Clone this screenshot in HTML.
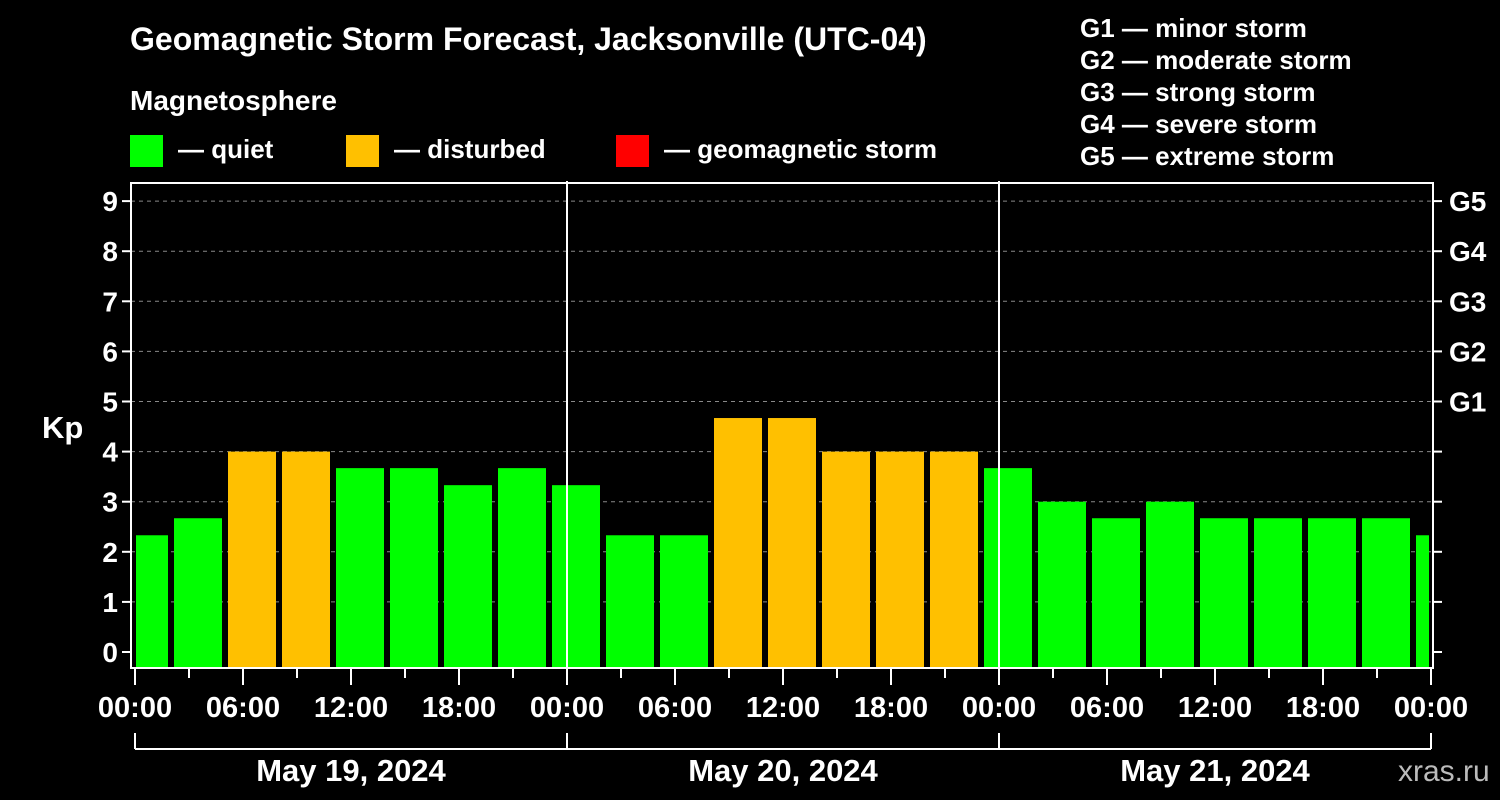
<!DOCTYPE html>
<html><head><meta charset="utf-8"><style>
html,body{margin:0;padding:0;background:#000;width:1500px;height:800px;overflow:hidden}
svg{display:block}
text{font-family:"Liberation Sans",Arial,sans-serif;font-weight:bold;fill:#fff}
</style></head><body>
<svg id="chart" width="1500" height="800" xmlns="http://www.w3.org/2000/svg">
<text x="130" y="50" font-size="32">Geomagnetic Storm Forecast, Jacksonville (UTC-04)</text>
<text x="130" y="110" font-size="28">Magnetosphere</text>
<g><rect x="130" y="135" width="33" height="32" fill="#00ff00"/><text x="178" y="158" font-size="26">— quiet</text></g>
<g><rect x="346" y="135" width="33" height="32" fill="#ffc000"/><text x="394" y="158" font-size="26">— disturbed</text></g>
<g><rect x="616" y="135" width="33" height="32" fill="#ff0000"/><text x="664" y="158" font-size="26">— geomagnetic storm</text></g>
<g font-size="26">
<text x="1080" y="37">G1 — minor storm</text>
<text x="1080" y="69">G2 — moderate storm</text>
<text x="1080" y="101">G3 — strong storm</text>
<text x="1080" y="133">G4 — severe storm</text>
<text x="1080" y="165">G5 — extreme storm</text>
</g>
<text x="42" y="438" font-size="31">Kp</text>
<g id="plot"></g>
<text x="1398" y="781" font-size="30" style="fill:#bbb;font-weight:normal">xras.ru</text>
</svg>
<script>
const kpValues=[2.33,2.67,4,4,3.67,3.67,3.33,3.67,3.33,2.33,2.33,4.67,4.67,4,4,4,3.67,3,2.67,3,2.67,2.67,2.67,2.67,2.33];
const slotStartHours=[-1,2,5,8,11,14,17,20,23,26,29,32,35,38,41,44,47,50,53,56,59,62,65,68,71];
const kpTicks=[0,1,2,3,4,5,6,7,8,9];
const gLabels=["G1","G2","G3","G4","G5"];
const hourTickLabels=["00:00","06:00","12:00","18:00","00:00","06:00","12:00","18:00","00:00","06:00","12:00","18:00","00:00"];
const dateLabels=["May 19, 2024","May 20, 2024","May 21, 2024"];
const NS="http://www.w3.org/2000/svg";
const L=131,R=1433,T=183,B=668,X0=135,PXH=18;
const x=h=>X0+h*PXH;
const y=v=>652-v*50.1;
const g=document.getElementById('plot');
function mk(tag,at,parent){const e=document.createElementNS(NS,tag);for(const k in at)e.setAttribute(k,at[k]);(parent||g).appendChild(e);return e;}
kpTicks.forEach(v=>{
 if(v>0){const gl=mk('line',{x1:L,x2:R,y1:y(v),y2:y(v),stroke:'#888','stroke-dasharray':'4,4','stroke-width':1});
 
 }
 mk('line',{x1:L-9,x2:L,y1:y(v),y2:y(v),stroke:'#fff','stroke-width':2});
 mk('line',{x1:R,x2:R+9,y1:y(v),y2:y(v),stroke:'#fff','stroke-width':2});
 const t=mk('text',{x:L-13,y:y(v)+10,'font-size':28,'text-anchor':'end'});t.textContent=v;
 
 
});
gLabels.forEach((s,i)=>{const t=mk('text',{x:1449,y:y(i+5)+10,'font-size':28});t.textContent=s;
 
 });
kpValues.forEach((v,i)=>{
 const h0=Math.max(slotStartHours[i],0),h1=Math.min(slotStartHours[i]+3,72);
 const x1=x(h0)+(slotStartHours[i]<0?1:3),x2=x(h1)-(slotStartHours[i]+3>72?2:3);
 const c=v>=5?'#ff0000':(v>=4?'#ffc000':'#00ff00');
 const r=mk('rect',{x:x1,y:y(v),width:x2-x1,height:B-y(v),fill:c});
 
 
});
[24,48].forEach(h=>mk('line',{x1:x(h),x2:x(h),y1:181,y2:B,stroke:'#fff','stroke-width':2}));
mk('rect',{x:L,y:T,width:R-L,height:B-T,fill:'none',stroke:'#fff','stroke-width':2});
for(let h=0;h<=72;h+=3){mk('line',{x1:x(h),x2:x(h),y1:B,y2:B+(h%6==0?17:10),stroke:'#fff','stroke-width':2});}
hourTickLabels.forEach((s,i)=>{const t=mk('text',{x:x(i*6),y:717,'font-size':29,'text-anchor':'middle'});t.textContent=s;
 
 });
mk('line',{x1:x(0),x2:x(72),y1:749,y2:749,stroke:'#fff','stroke-width':2});
[0,24,48,72].forEach(h=>mk('line',{x1:x(h),x2:x(h),y1:733,y2:749,stroke:'#fff','stroke-width':2}));
dateLabels.forEach((s,i)=>{const t=mk('text',{x:x(i*24+12),y:781,'font-size':31,'text-anchor':'middle'});t.textContent=s;
 
 });
</script>
</body></html>
